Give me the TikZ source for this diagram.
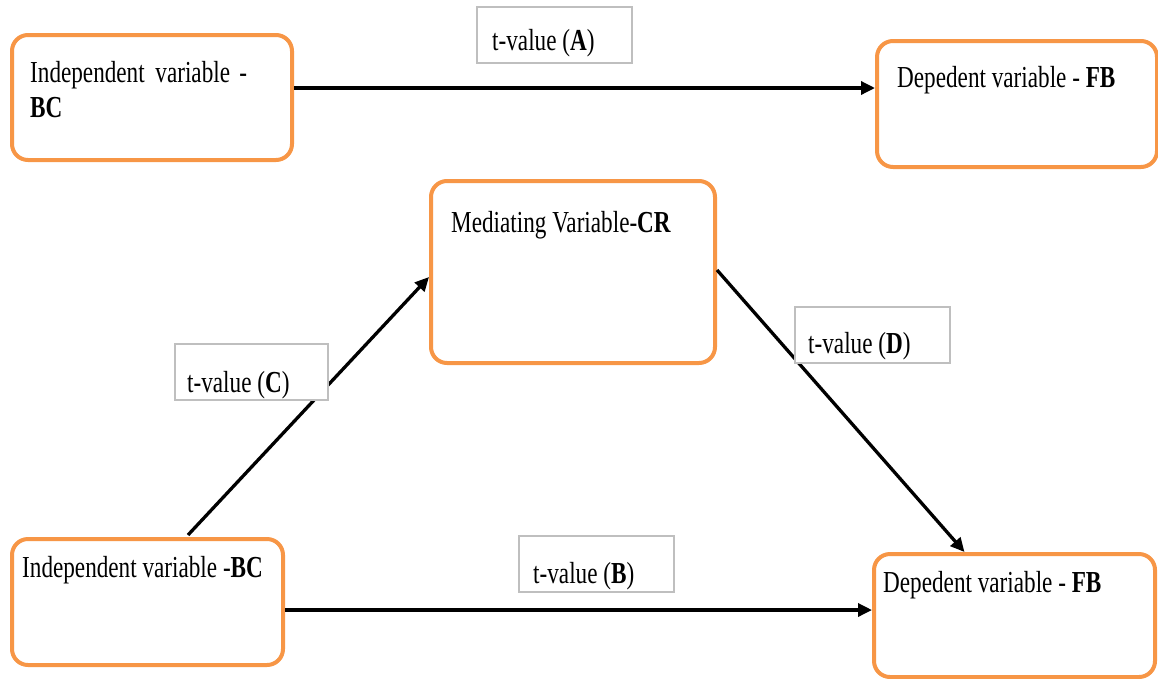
\documentclass[tikz,border=0pt]{standalone}
\usepackage{fontspec}
\setmainfont[FakeStretch=0.76]{Liberation Serif}
\usetikzlibrary{arrows.meta}

\begin{document}
\begin{tikzpicture}[x=1pt,y=-1pt,
  varbox/.style={draw=boxorange, line width=4pt, rounded corners=16pt,
    anchor=north west, inner sep=0pt, fill=white},
  tbox/.style={draw=tgray, line width=2pt, anchor=north west,
    inner sep=0pt, fill=white},
  txt/.style={anchor=base west, inner sep=0pt,
    font=\fontsize{30.5}{35}\selectfont},
  link/.style={line width=3.3pt, -{Triangle[length=14pt,width=13pt]}}
]
\definecolor{boxorange}{HTML}{F79646}
\definecolor{tgray}{HTML}{BFBFBF}
\useasboundingbox (0,0) rectangle (1158,678);

% variable boxes
\node[varbox, minimum width=280pt, minimum height=125pt] (iv1) at (10,33) {};
\node[varbox, minimum width=280pt, minimum height=126pt] (dv1) at (875,39) {};
\node[varbox, minimum width=284pt, minimum height=182pt] (med) at (429,179) {};
\node[varbox, minimum width=271pt, minimum height=126pt] (iv2) at (10,537) {};
\node[varbox, minimum width=281pt, minimum height=123pt] (dv2) at (872,552) {};

% connectors (drawn before the t-value boxes, which sit on top of them)
\draw[link] ([yshift=9.5pt]iv1.east) -- ([yshift=16pt]dv1.west);
\draw[link] ([xshift=40.5pt,yshift=2pt]iv2.north) -- ([yshift=-5pt]med.west);
\draw[link] ([yshift=2pt]med.east) -- ([xshift=-50pt]dv2.north);
\draw[link] ([yshift=-8pt]iv2.east) -- ([yshift=5.5pt]dv2.west);

% t-value boxes
\node[tbox, minimum width=155pt, minimum height=56pt] (tA) at (476,6) {};
\node[tbox, minimum width=153pt, minimum height=56pt] (tC) at (174,343) {};
\node[tbox, minimum width=155pt, minimum height=56pt] (tD) at (794,306) {};
\node[tbox, minimum width=155pt, minimum height=56pt] (tB) at (518,535) {};

% texts
\node[txt] (iv1a) at (30,82) {Independent\hspace{0.35em}variable\hspace{0.3em}-};
\node[txt] (iv1b) at (30,117) {\textbf{BC}};
\node[txt] (dv1t) at (897,87) {Depedent variable - \textbf{FB}};
\node[txt] (medt) at (451,232) {Mediating Variable-\textbf{CR}};
\node[txt] (iv2t) at (22,577) {Independent variable -\textbf{BC}};
\node[txt] (dv2t) at (883,592) {Depedent variable - \textbf{FB}};
\node[txt] (tAt) at (492,50) {t-value (\textbf{A})};
\node[txt] (tCt) at (187,392) {t-value (\textbf{C})};
\node[txt] (tDt) at (808,353) {t-value (\textbf{D})};
\node[txt] (tBt) at (533,583) {t-value (\textbf{B})};
\end{tikzpicture}
\end{document}
